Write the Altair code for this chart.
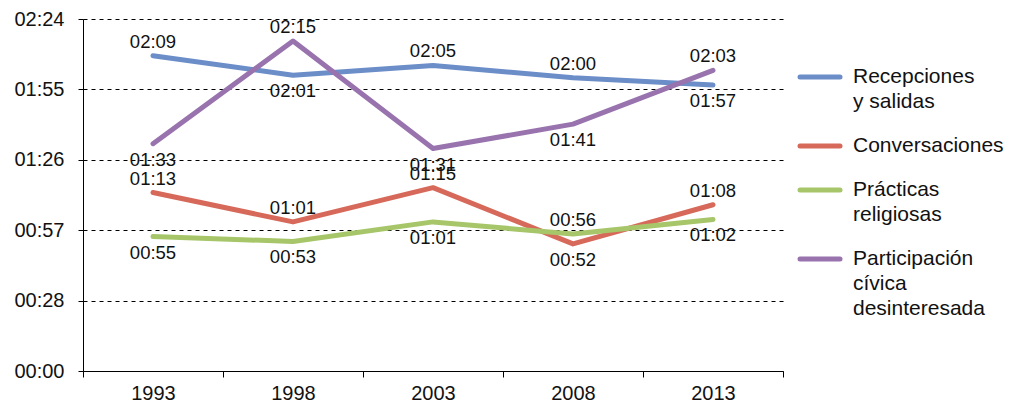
import altair as alt
import pandas as pd

# Survey years on the x axis
years = ["1993", "1998", "2003", "2008", "2013"]

# Activity names (line breaks used for the legend labels)
series = [
    "Recepciones\ny salidas",
    "Conversaciones",
    "Prácticas\nreligiosas",
    "Participación\ncívica\ndesinteresada",
]
colors = ["#6b8dc8", "#d6695a", "#a6c669", "#9873ae"]

# Average daily time in minutes
recepciones = [129, 121, 125, 120, 117]
conversaciones = [73, 61, 75, 52, 68]
practicas = [55, 53, 61, 56, 62]
participacion = [93, 135, 91, 101, 123]

# Where each value label sits relative to its point
place_rec = ["up", "down", "up", "up", "down"]
place_con = ["up", "up", "up", "down", "up"]
place_pra = ["down", "down", "down", "up", "down"]
place_par = ["down", "up", "down", "down", "up"]

values = [recepciones, conversaciones, practicas, participacion]
places = [place_rec, place_con, place_pra, place_par]

rows = []
for name, vals, pl in zip(series, values, places):
    for yr, v, p in zip(years, vals, pl):
        rows.append({
            "year": yr,
            "serie": name,
            "minutes": v,
            "label": f"{v // 60:02d}:{v % 60:02d}",
            "place": p,
        })
df = pd.DataFrame(rows)

# Legend rows: one row per text line, positions counted in line units
ENTRY_GAP = 0.76
leg_rows = []
line_no = 0
for i, name in enumerate(series):
    for j, part in enumerate(name.split("\n")):
        leg_rows.append({
            "serie": name,
            "text": part,
            "pos": line_no + i * ENTRY_GAP,
            "first": j == 0,
        })
        line_no += 1
leg_df = pd.DataFrame(leg_rows)

FONT = "Liberation Sans"
W, H = 700, 352
LEG_W = 200
LINE_PX = 25.0
LEG_TOP_PX = 58.0  # distance from the panel top to the first legend line
tick_values = [0, 28.8, 57.6, 86.4, 115.2, 144]
hhmm = (
    "(floor(datum.value/60) < 10 ? '0' : '') + floor(datum.value/60) + ':' + "
    "(floor(datum.value%60) < 10 ? '0' : '') + floor(datum.value%60)"
)

color_scale = alt.Scale(domain=series, range=colors)

x_enc = alt.X(
    "year:N",
    sort=years,
    bandPosition=0.5,
    scale=alt.Scale(type="band", paddingInner=0, paddingOuter=0),
    axis=alt.Axis(
        title=None,
        labelAngle=0,
        tickBand="extent",
        labelFont=FONT,
        labelFontSize=20,
        labelColor="#111111",
        labelPadding=6,
        tickSize=6,
        tickColor="black",
        domainColor="black",
        grid=False,
    ),
)
y_enc = alt.Y(
    "minutes:Q",
    scale=alt.Scale(domain=[0, 144], nice=False, zero=True),
    axis=alt.Axis(
        title=None,
        values=tick_values,
        labelExpr=hhmm,
        labelFont=FONT,
        labelFontSize=20,
        labelColor="#111111",
        labelPadding=14,
        tickSize=5,
        tickColor="black",
        domainColor="black",
        grid=True,
        gridColor="black",
        gridDash=[4, 4],
        gridWidth=1,
    ),
)

base = alt.Chart(df)

lines = base.mark_line(strokeWidth=5, strokeCap="round", strokeJoin="round").encode(
    x=x_enc,
    y=y_enc,
    color=alt.Color("serie:N", sort=series, scale=color_scale, legend=None),
    detail="serie:N",
)

labels_up = base.transform_filter(alt.datum.place == "up").mark_text(
    font=FONT, fontSize=18.5, color="#111111", dy=-14
).encode(x=x_enc, y=y_enc, text="label:N")

labels_down = base.transform_filter(alt.datum.place == "down").mark_text(
    font=FONT, fontSize=18.5, color="#111111", dy=16
).encode(x=x_enc, y=y_enc, text="label:N")

main = alt.layer(lines, labels_up, labels_down).properties(width=W, height=H)

# Legend panel: line-unit scale, top of panel above the first line
leg_y_scale = alt.Scale(
    domain=[-LEG_TOP_PX / LINE_PX, (H - LEG_TOP_PX) / LINE_PX],
    reverse=True,
    nice=False,
    zero=False,
)
leg_base = alt.Chart(leg_df)
leg_sym = leg_base.transform_filter(alt.datum.first).mark_rule(
    strokeWidth=5, strokeCap="round"
).encode(
    x=alt.value(3),
    x2=alt.value(43),
    y=alt.Y("pos:Q", scale=leg_y_scale, axis=None),
    color=alt.Color("serie:N", sort=series, scale=color_scale, legend=None),
)
leg_txt = leg_base.mark_text(
    font=FONT, fontSize=21, color="#111111", align="left", baseline="middle"
).encode(
    x=alt.value(56),
    y=alt.Y("pos:Q", scale=leg_y_scale, axis=None),
    text="text:N",
)
legend = alt.layer(leg_sym, leg_txt).properties(width=LEG_W, height=H)

chart = (
    alt.hconcat(main, legend, spacing=13)
    .properties(
        padding={"left": 13, "top": 9, "right": 0, "bottom": 0},
        background="white",
    )
    .configure_view(stroke=None)
)

chart.save("out.html", embed_options={"renderer": "svg", "actions": False})
